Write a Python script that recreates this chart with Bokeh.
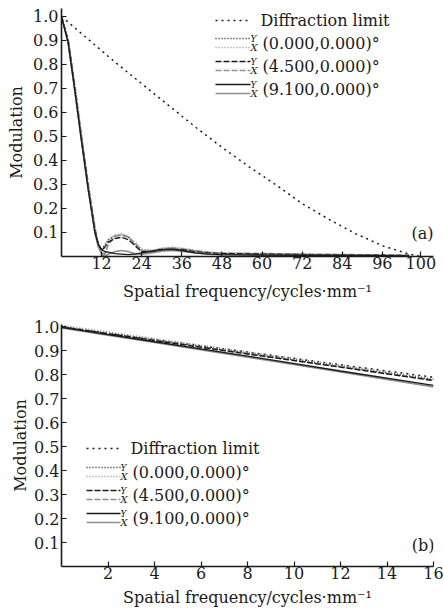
from bokeh.plotting import figure
from bokeh.models import FixedTicker, Label, Arrow, Range1d, NumeralTickFormatter
from bokeh.layouts import column
from bokeh.embed import file_html
from bokeh.resources import INLINE

FONT = "DejaVu Serif"
BLACK = "#1a1a1a"
GRAY = "#8f8f8f"

# ---------------- data, panel (a) ----------------
diff_freq_a = [0, 8, 16, 24, 32, 40, 48, 56, 64, 72, 80, 88, 96, 104, 107.5]
diff_mtf_a = [1.0, 0.905, 0.81, 0.72, 0.63, 0.54, 0.455, 0.375, 0.30, 0.22, 0.155, 0.095, 0.045, 0.01, 0.0]

freq_a = [0, 2, 4, 6, 8, 10, 11, 12, 13, 14, 16, 18, 20, 22, 24, 27, 30, 33, 36, 40, 44, 48, 60, 72, 84, 96, 104]
t_000_a = [1.0, 0.90, 0.70, 0.49, 0.29, 0.11, 0.05, 0.03, 0.05, 0.07, 0.085, 0.09, 0.08, 0.05, 0.025, 0.025, 0.033, 0.035, 0.03, 0.022, 0.016, 0.012, 0.01, 0.008, 0.007, 0.005, 0.004]
s_000_a = [1.0, 0.90, 0.71, 0.50, 0.30, 0.12, 0.05, 0.02, 0.04, 0.07, 0.09, 0.095, 0.085, 0.06, 0.03, 0.025, 0.035, 0.038, 0.035, 0.025, 0.018, 0.014, 0.012, 0.01, 0.008, 0.006, 0.005]
t_450_a = [1.0, 0.90, 0.70, 0.49, 0.29, 0.11, 0.05, 0.025, 0.04, 0.06, 0.075, 0.08, 0.07, 0.045, 0.02, 0.02, 0.028, 0.03, 0.028, 0.02, 0.015, 0.012, 0.01, 0.008, 0.006, 0.005, 0.004]
s_450_a = [1.0, 0.90, 0.71, 0.50, 0.30, 0.12, 0.05, 0.015, 0.01, 0.05, 0.085, 0.09, 0.08, 0.055, 0.025, 0.02, 0.03, 0.035, 0.032, 0.024, 0.017, 0.014, 0.012, 0.01, 0.008, 0.006, 0.005]
t_910_a = [1.0, 0.89, 0.69, 0.48, 0.28, 0.10, 0.05, 0.03, 0.02, 0.018, 0.012, 0.01, 0.008, 0.01, 0.015, 0.022, 0.028, 0.03, 0.025, 0.015, 0.01, 0.008, 0.006, 0.005, 0.004, 0.003, 0.002]
s_910_a = [1.0, 0.89, 0.69, 0.48, 0.28, 0.10, 0.04, 0.01, 0.0, 0.01, 0.02, 0.025, 0.02, 0.012, 0.01, 0.015, 0.022, 0.025, 0.022, 0.015, 0.01, 0.008, 0.006, 0.005, 0.004, 0.003, 0.002]

x_ticks_a = [12, 24, 36, 48, 60, 72, 84, 96, 107.5]
x_tick_labels_a = ["12", "24", "36", "48", "60", "72", "84", "96", "100"]

# ---------------- data, panel (b) ----------------
freq_b = [0, 4, 8, 12, 16]
diff_mtf_b = [1.0, 0.947, 0.895, 0.842, 0.79]
t_000_b = [1.0, 0.945, 0.89, 0.835, 0.78]
s_000_b = [1.006, 0.951, 0.895, 0.84, 0.784]
t_450_b = [1.0, 0.943, 0.887, 0.832, 0.776]
s_450_b = [1.0, 0.945, 0.888, 0.833, 0.778]
t_910_b = [0.998, 0.938, 0.878, 0.816, 0.756]
s_910_b = [0.996, 0.935, 0.874, 0.812, 0.75]

x_ticks_b = [2, 4, 6, 8, 10, 12, 14, 16]
y_ticks = [0.1, 0.2, 0.3, 0.4, 0.5, 0.6, 0.7, 0.8, 0.9, 1.0]

legend_fields = ["(0.000,0.000)°", "(4.500,0.000)°", "(9.100,0.000)°"]
DASHES = ["1 2", "6 2", "solid"]


def style(p):
    p.xgrid.visible = False
    p.ygrid.visible = False
    p.outline_line_color = None
    p.background_fill_color = "white"
    p.border_fill_color = "white"
    for ax in (p.xaxis[0], p.yaxis[0]):
        ax.axis_line_color = BLACK
        ax.axis_line_width = 1.6
        ax.major_tick_line_color = BLACK
        ax.major_tick_line_width = 1.2
        ax.major_tick_in = 5
        ax.major_tick_out = 0
        ax.minor_tick_line_color = None
        ax.major_label_text_font = FONT
        ax.major_label_text_font_size = "16px"
        ax.major_label_text_color = BLACK
        ax.axis_label_text_font = FONT
        ax.axis_label_text_font_size = "16px"
        ax.axis_label_text_font_style = "normal"
        ax.axis_label_text_color = BLACK
    p.yaxis[0].ticker = FixedTicker(ticks=y_ticks)
    p.yaxis[0].formatter = NumeralTickFormatter(format="0.0")
    p.yaxis[0].axis_label = "Modulation"
    p.xaxis[0].axis_label = "Spatial frequency/cycles·mm⁻¹"


def draw_curves(p, x, t0, s0, t45, s45, t91, s91, xd, d):
    p.line(xd, d, line_color=BLACK, line_width=1.5, line_dash="2 4")
    for (t, s), dash in zip(((t0, s0), (t45, s45), (t91, s91)), DASHES):
        p.line(x, s, line_color=GRAY, line_width=1.7, line_dash=dash)
        p.line(x, t, line_color=BLACK, line_width=1.4, line_dash=dash)


def add_legend(p, fl, fb, sw0, sw1, diff_y, rows, text_x, yx_x):
    # page pixel positions -> frame-relative screen units (y up)
    def sx(px):
        return px - fl

    def sy(py):
        return fb - py

    p.add_layout(Arrow(end=None, x_start=sx(sw0), y_start=sy(diff_y), x_end=sx(sw1), y_end=sy(diff_y),
                       start_units="screen", end_units="screen",
                       line_color=BLACK, line_width=1.5, line_dash="2 4"))
    p.add_layout(Label(x=sx(text_x), y=sy(diff_y), x_units="screen", y_units="screen",
                       text="Diffraction limit", text_font=FONT, text_font_size="16px",
                       text_color=BLACK, text_baseline="middle"))
    for lab, dash, c in zip(legend_fields, DASHES, rows):
        for col, off in ((BLACK, -5), (GRAY, 4)):
            p.add_layout(Arrow(end=None, x_start=sx(sw0), y_start=sy(c + off), x_end=sx(sw1 + 1), y_end=sy(c + off),
                               start_units="screen", end_units="screen",
                               line_color=col, line_width=1.5, line_dash=dash))
        p.add_layout(Label(x=sx(yx_x), y=sy(c - 5), x_units="screen", y_units="screen",
                           text="Y", text_font=FONT, text_font_size="9px", text_font_style="italic",
                           text_color=BLACK, text_baseline="middle"))
        p.add_layout(Label(x=sx(yx_x), y=sy(c + 4), x_units="screen", y_units="screen",
                           text="X", text_font=FONT, text_font_size="10px", text_font_style="italic",
                           text_color=BLACK, text_baseline="middle"))
        p.add_layout(Label(x=sx(text_x + 2), y=sy(c), x_units="screen", y_units="screen",
                           text=lab, text_font=FONT, text_font_size="16px",
                           text_color=BLACK, text_baseline="middle"))


# ---------------- panel (a) ----------------
# frame: page x 61..440, page y 8..256 (1.0 at y 16)
pa = figure(width=444, height=306, output_backend="svg", toolbar_location=None,
            x_range=Range1d(0, 111.3), y_range=Range1d(0, 1.0333),
            min_border_left=61, min_border_right=4, min_border_top=8, min_border_bottom=50)
style(pa)
pa.xaxis[0].ticker = FixedTicker(ticks=x_ticks_a)
pa.xaxis[0].major_label_overrides = dict(zip(x_ticks_a, x_tick_labels_a))
pa.xaxis[0].major_label_standoff = 0
pa.xaxis[0].axis_label_standoff = 10
pa.yaxis[0].major_label_standoff = 3
pa.yaxis[0].axis_label_standoff = 4
draw_curves(pa, freq_a, t_000_a, s_000_a, t_450_a, s_450_a, t_910_a, s_910_a, diff_freq_a, diff_mtf_a)
add_legend(pa, 61, 256, 215, 249, 20, [43, 66, 89], 260, 250)
pa.add_layout(Label(x=433 - 61, y=256 - 233, x_units="screen", y_units="screen", text="(a)",
                    text_font=FONT, text_font_size="16px", text_color=BLACK,
                    text_align="right", text_baseline="middle"))

# ---------------- panel (b) ----------------
# frame: page x 55..433, page y 324..566
pb = figure(width=444, height=309, output_backend="svg", toolbar_location=None,
            x_range=Range1d(0, 16), y_range=Range1d(0, 1.01),
            min_border_left=55, min_border_right=11, min_border_top=18, min_border_bottom=49)
style(pb)
pb.xaxis[0].ticker = FixedTicker(ticks=x_ticks_b)
pb.xaxis[0].major_label_standoff = 0
pb.xaxis[0].axis_label_standoff = 6
pb.yaxis[0].major_label_standoff = 2
pb.yaxis[0].axis_label_standoff = 1
draw_curves(pb, freq_b, t_000_b, s_000_b, t_450_b, s_450_b, t_910_b, s_910_b, freq_b, diff_mtf_b)
add_legend(pb, 55, 566, 80, 113, 448, [472, 495, 518], 124, 114)
pb.add_layout(Label(x=428 - 55, y=566 - 545, x_units="screen", y_units="screen", text="(b)",
                    text_font=FONT, text_font_size="16px", text_color=BLACK,
                    text_align="right", text_baseline="middle"))

layout = column(pa, pb, spacing=0)
open("out.html", "w").write(file_html(layout, INLINE))
